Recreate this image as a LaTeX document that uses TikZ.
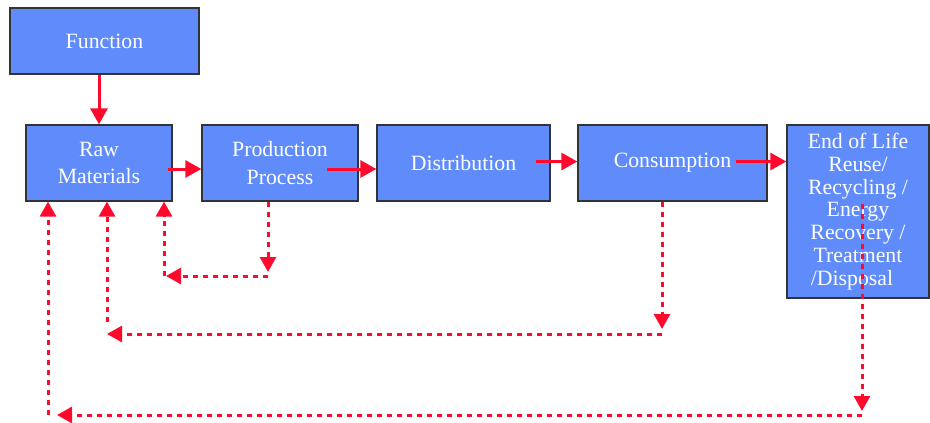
\documentclass[tikz,border=0pt]{standalone}
\usepackage{fontspec}
\setmainfont{Liberation Serif}
\usetikzlibrary{arrows.meta}
\definecolor{boxblue}{HTML}{5F8CFA}
\definecolor{arrred}{HTML}{FF0A2D}
\definecolor{boxedge}{HTML}{333333}
\tikzset{
  blockbox/.style={draw=boxedge, line width=1.3pt, fill=boxblue, text=white, inner sep=0pt, align=center,
    font=\fontsize{21.8}{27.5}\selectfont},
  solidarrow/.style={draw=arrred, line width=3pt, -{Triangle[length=16pt,width=17pt]}},
  dasharrow/.style={draw=arrred, line width=3pt, dash pattern=on 5pt off 5pt, -{Triangle[length=15pt,width=16pt]}},
  dashline/.style={draw=arrred, line width=3pt, dash pattern=on 5pt off 5pt}
}
\begin{document}
\begin{tikzpicture}[x=1pt,y=-1pt]
\useasboundingbox (0,0) rectangle (930,423);
\node[blockbox, minimum width=189pt, minimum height=66pt] (func) at (104.5,41) {Function};
\node[blockbox, minimum width=146pt, minimum height=76pt] (raw) at (99,163) {Raw\\Materials};
\node[blockbox, minimum width=156pt, minimum height=76pt] (prod) at (280,163) {Production\\Process};
\node[blockbox, minimum width=173pt, minimum height=76pt] (dist) at (463.5,163) {Distribution};
\node[blockbox, minimum width=189pt, minimum height=76pt] (cons) at (672.5,163) {Consumption};
\node[blockbox, minimum width=142pt, minimum height=173pt, font=\fontsize{21.8}{22.8}\selectfont] (eol) at (858,211.5) {End of Life\\Reuse/\\Recycling /\\Energy\\Recovery /\\Treatment\\/Disposal\hspace*{12pt}};
% solid arrows
\draw[solidarrow] (raw.north |- func.south) -- (raw.north);
\draw[solidarrow] (168,169) -- (prod.west |- 0,169);
\draw[solidarrow] (327,169) -- (dist.west |- 0,169);
\draw[solidarrow] (536,161.5) -- (cons.west |- 0,161.5);
\draw[solidarrow] (736,161.5) -- (eol.west |- 0,161.5);
% loop 1: production -> raw
\coordinate (a1) at (268,272);
\coordinate (a2) at (268,276);
\coordinate (a3) at (166,276);
\coordinate (a4) at (164,276);
\draw[dasharrow] (prod.south -| a1) -- (a1);
\draw[dasharrow] (a2) -- (a3);
\draw[dasharrow] (a4) -- (raw.south -| a4);
% loop 2: consumption -> raw
\coordinate (b1) at (662,329);
\coordinate (b2) at (662,334);
\coordinate (b3) at (107,334);
\coordinate (b4) at (107,322);
\draw[dasharrow] (cons.south -| b1) -- (b1);
\draw[dasharrow] (b2) -- (b3);
\draw[dasharrow] (b4) -- (raw.south -| b4);
% loop 3: end of life -> raw
\coordinate (c0) at (862,204);
\coordinate (c1) at (862,411);
\coordinate (c2) at (862,415);
\coordinate (c3) at (57,415);
\coordinate (c4) at (48,415);
\draw[dasharrow] (c0) -- (c1);
\draw[dasharrow] (c2) -- (c3);
\draw[dasharrow] (c4) -- (raw.south -| c4);
\end{tikzpicture}
\end{document}
